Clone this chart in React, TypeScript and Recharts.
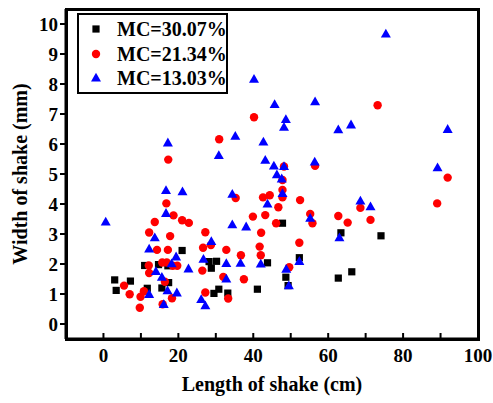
import React from 'react';
import { ScatterChart, Scatter, XAxis, YAxis, Label } from 'recharts';

// MC = 30.07 % (black squares)
const mc3007: [number, number][] = [
  [3.0, 1.47], [3.4, 1.12], [7.2, 1.43], [11.0, 1.95], [11.7, 1.19], [14.7, 1.98], [15.6, 1.2],
  [17.4, 1.38], [17.2, 1.94], [21.0, 2.45], [28.2, 2.08], [28.8, 1.86], [30.2, 2.09], [29.5, 1.02],
  [30.8, 1.16], [33.2, 1.03], [41.1, 1.16], [43.8, 2.04], [47.8, 3.36], [48.7, 1.56], [49.3, 1.28],
  [52.3, 2.21], [62.7, 1.53], [63.4, 3.04], [66.3, 1.74], [74.1, 2.94],
];

// MC = 21.34 % (red circles)
const mc2134: [number, number][] = [
  [5.5, 1.28], [7.0, 0.99], [9.7, 0.54], [9.9, 0.91], [10.8, 1.09], [12.2, 3.05], [12.1, 1.95],
  [12.2, 1.7], [13.7, 3.4], [14.3, 2.47], [15.7, 2.05], [16.9, 2.05], [16.4, 1.41], [15.8, 0.66],
  [16.8, 4.02], [17.2, 2.47], [17.8, 2.93], [18.3, 0.86], [18.7, 3.62], [18.5, 1.94], [19.7, 1.94],
  [21.0, 3.46], [22.8, 3.37], [17.3, 5.48], [26.6, 2.54], [27.2, 3.06], [26.4, 1.78], [27.2, 1.05],
  [28.7, 2.63], [30.9, 6.16], [32.0, 1.57], [32.8, 2.47], [33.3, 0.85], [35.3, 4.2], [36.7, 2.29],
  [37.5, 1.49], [40.2, 6.89], [39.9, 3.58], [42.6, 4.22], [44.4, 4.29], [43.2, 3.63], [42.1, 3.04],
  [41.7, 2.58], [42.0, 2.29], [46.7, 3.89], [46.1, 3.36], [47.8, 4.47], [47.8, 4.8], [48.2, 5.25],
  [47.8, 4.22], [52.5, 4.13], [52.3, 2.71], [49.6, 1.89], [55.2, 3.67], [55.8, 3.36], [56.5, 5.27],
  [62.7, 3.6], [65.2, 3.38], [68.6, 3.87], [71.3, 3.47], [73.2, 7.29], [89.1, 4.02], [91.9, 4.88],
];

// MC = 13.03 % (blue triangles)
const mc1303: [number, number][] = [
  [0.6, 3.4], [12.2, 2.5], [12.2, 0.99], [13.7, 2.88], [14.0, 1.75], [15.6, 1.56], [16.1, 0.65],
  [16.7, 4.45], [16.7, 3.69], [17.1, 1.11], [18.2, 2.01], [19.4, 2.24], [19.6, 1.04], [21.1, 4.41],
  [22.7, 1.84], [26.1, 0.82], [26.7, 2.16], [27.2, 0.61], [28.8, 2.75], [32.8, 2.02], [32.8, 1.5],
  [34.4, 3.31], [34.4, 4.33], [36.6, 2.03], [38.1, 3.24], [17.2, 6.04], [30.8, 5.62], [35.2, 6.26],
  [75.4, 9.67], [40.2, 8.16], [45.7, 7.32], [56.5, 7.41], [48.7, 6.82], [48.2, 6.56], [62.7, 6.48],
  [66.1, 6.64], [91.9, 6.49], [42.7, 6.07], [43.2, 5.46], [45.5, 5.27], [48.2, 5.25], [46.3, 4.98],
  [47.6, 4.84], [56.4, 5.4], [89.2, 5.21], [47.8, 4.35], [43.8, 4.0], [68.6, 4.1], [71.3, 3.91],
  [55.2, 3.53], [63.0, 2.88], [42.0, 2.0], [52.3, 2.09], [48.8, 1.83], [49.5, 1.28],
];

const xTicks = [-10, 0, 10, 20, 30, 40, 50, 60, 70, 80, 90, 100];
const xLabelTicks = [0, 20, 40, 60, 80, 100];
const yTicks = [0, 1, 2, 3, 4, 5, 6, 7, 8, 9, 10];
const xDomain: [number, number] = [-10, 100];
const yDomain: [number, number] = [-0.5, 10.5];

const seriesNames = ['MC=30.07%', 'MC=21.34%', 'MC=13.03%'];
const seriesColors = ['#000000', '#ff0000', '#0000ff'];
const seriesShapes = ['square', 'circle', 'triangle'];

const FONT = 'Liberation Serif, serif';
const frameLine = { stroke: '#000', strokeWidth: 3 };
const tickStroke = { stroke: '#000', strokeWidth: 2 };

const W = 493;
const H = 403;
const M = { top: 9, right: 15, bottom: 0, left: 0 };
const Y_AXIS_W = 66;
const X_AXIS_H = 64;

const toPts = (arr: [number, number][]) => arr.map(([x, y]) => ({ x, y }));

const Glyph = ({ kind, cx, cy, color }: { kind: string; cx: number; cy: number; color: string }) => {
  if (kind === 'square') return <rect x={cx - 3.6} y={cy - 3.6} width={7.2} height={7.2} fill={color} />;
  if (kind === 'circle') return <circle cx={cx} cy={cy} r={4.2} fill={color} />;
  return <polygon points={`${cx},${cy - 5.2} ${cx - 5},${cy + 3.6} ${cx + 5},${cy + 3.6}`} fill={color} />;
};

const makeShape = (kind: string, color: string) => (props: any) => (
  <Glyph kind={kind} cx={props.cx} cy={props.cy} color={color} />
);

// X tick lines inward (tickSize -6, tickMargin 0): tick props y = axis y - 6
const XTick = (props: any) => {
  const { x, y, payload } = props;
  const v = payload.value;
  if (!xLabelTicks.includes(v)) return <g />;
  return (
    <text x={x} y={y + 6 + 23} textAnchor="middle" fontFamily={FONT} fontWeight="bold" fontSize={19} fill="#000">
      {v}
    </text>
  );
};

// Y tick lines outward (tickSize 6, tickMargin 2): tick props x = axis x - 8
const YTick = (props: any) => {
  const { x, y, payload } = props;
  return (
    <text x={x} y={y + 6.5} textAnchor="end" fontFamily={FONT} fontWeight="bold" fontSize={19} fill="#000">
      {payload.value}
    </text>
  );
};

const LegendBox = () => (
  <div
    style={{
      position: 'absolute',
      left: 77,
      top: 13,
      border: '2px solid #000',
      width: 147,
      height: 75,
      boxSizing: 'content-box',
      background: '#fff',
      paddingTop: 2,
    }}
  >
    {seriesNames.map((n, i) => (
      <div key={n} style={{ display: 'flex', alignItems: 'center', height: 24.5 }}>
        <svg width={38} height={20} style={{ flex: 'none' }}>
          <Glyph kind={seriesShapes[i]} cx={17} cy={10} color={seriesColors[i]} />
        </svg>
        <span style={{ fontFamily: FONT, fontWeight: 'bold', fontSize: 20, color: '#000', lineHeight: '20px' }}>{n}</span>
      </div>
    ))}
  </div>
);

const plotLeft = M.left + Y_AXIS_W;
const plotTop = M.top;
const plotW = W - M.left - M.right - Y_AXIS_W;
const plotH = H - M.top - M.bottom - X_AXIS_H;

const FrameBox = () => (
  <div
    style={{
      position: 'absolute',
      left: plotLeft - 1.5,
      top: plotTop - 1.5,
      width: plotW + 3,
      height: plotH + 3,
      border: '3px solid #000',
      boxSizing: 'border-box',
      pointerEvents: 'none',
    }}
  />
);

export default function App() {
  const sets = [mc3007, mc2134, mc1303];
  return (
    <div style={{ position: 'absolute', left: 0, top: 0, width: W, height: H }}>
      <ScatterChart width={W} height={H} margin={M}>
        <XAxis
          type="number"
          dataKey="x"
          domain={xDomain}
          ticks={xTicks}
          axisLine={frameLine}
          tickLine={tickStroke}
          tickSize={-6}
          tickMargin={0}
          tick={<XTick />}
          height={X_AXIS_H}
        >
          <Label
            content={(p: any) => {
              const vb = p.viewBox;
              return (
                <text x={vb.x + vb.width / 2} y={391} textAnchor="middle" fontFamily={FONT} fontWeight="bold" fontSize={20} fill="#000">
                  Length of shake (cm)
                </text>
              );
            }}
          />
        </XAxis>
        <XAxis xAxisId="top" orientation="top" type="number" dataKey="x" domain={xDomain} height={0} tick={false} tickLine={false} axisLine={frameLine} />
        <YAxis
          type="number"
          dataKey="y"
          domain={yDomain}
          ticks={yTicks}
          axisLine={frameLine}
          tickLine={tickStroke}
          tickSize={6}
          tickMargin={2}
          tick={<YTick />}
          width={Y_AXIS_W}
        >
          <Label
            content={(p: any) => {
              const vb = p.viewBox;
              const cy = vb.y + vb.height / 2;
              return (
                <text transform={`translate(27, ${cy}) rotate(-90)`} textAnchor="middle" fontFamily={FONT} fontWeight="bold" fontSize={20} fill="#000">
                  Width of shake (mm)
                </text>
              );
            }}
          />
        </YAxis>
        <YAxis yAxisId="right" orientation="right" type="number" dataKey="y" domain={yDomain} width={0} tick={false} tickLine={false} axisLine={frameLine} />
        {sets.map((s, i) => (
          <Scatter
            key={seriesNames[i]}
            name={seriesNames[i]}
            data={toPts(s)}
            fill={seriesColors[i]}
            shape={makeShape(seriesShapes[i], seriesColors[i])}
            isAnimationActive={false}
          />
        ))}
      </ScatterChart>
      <FrameBox />
      <LegendBox />
    </div>
  );
}
